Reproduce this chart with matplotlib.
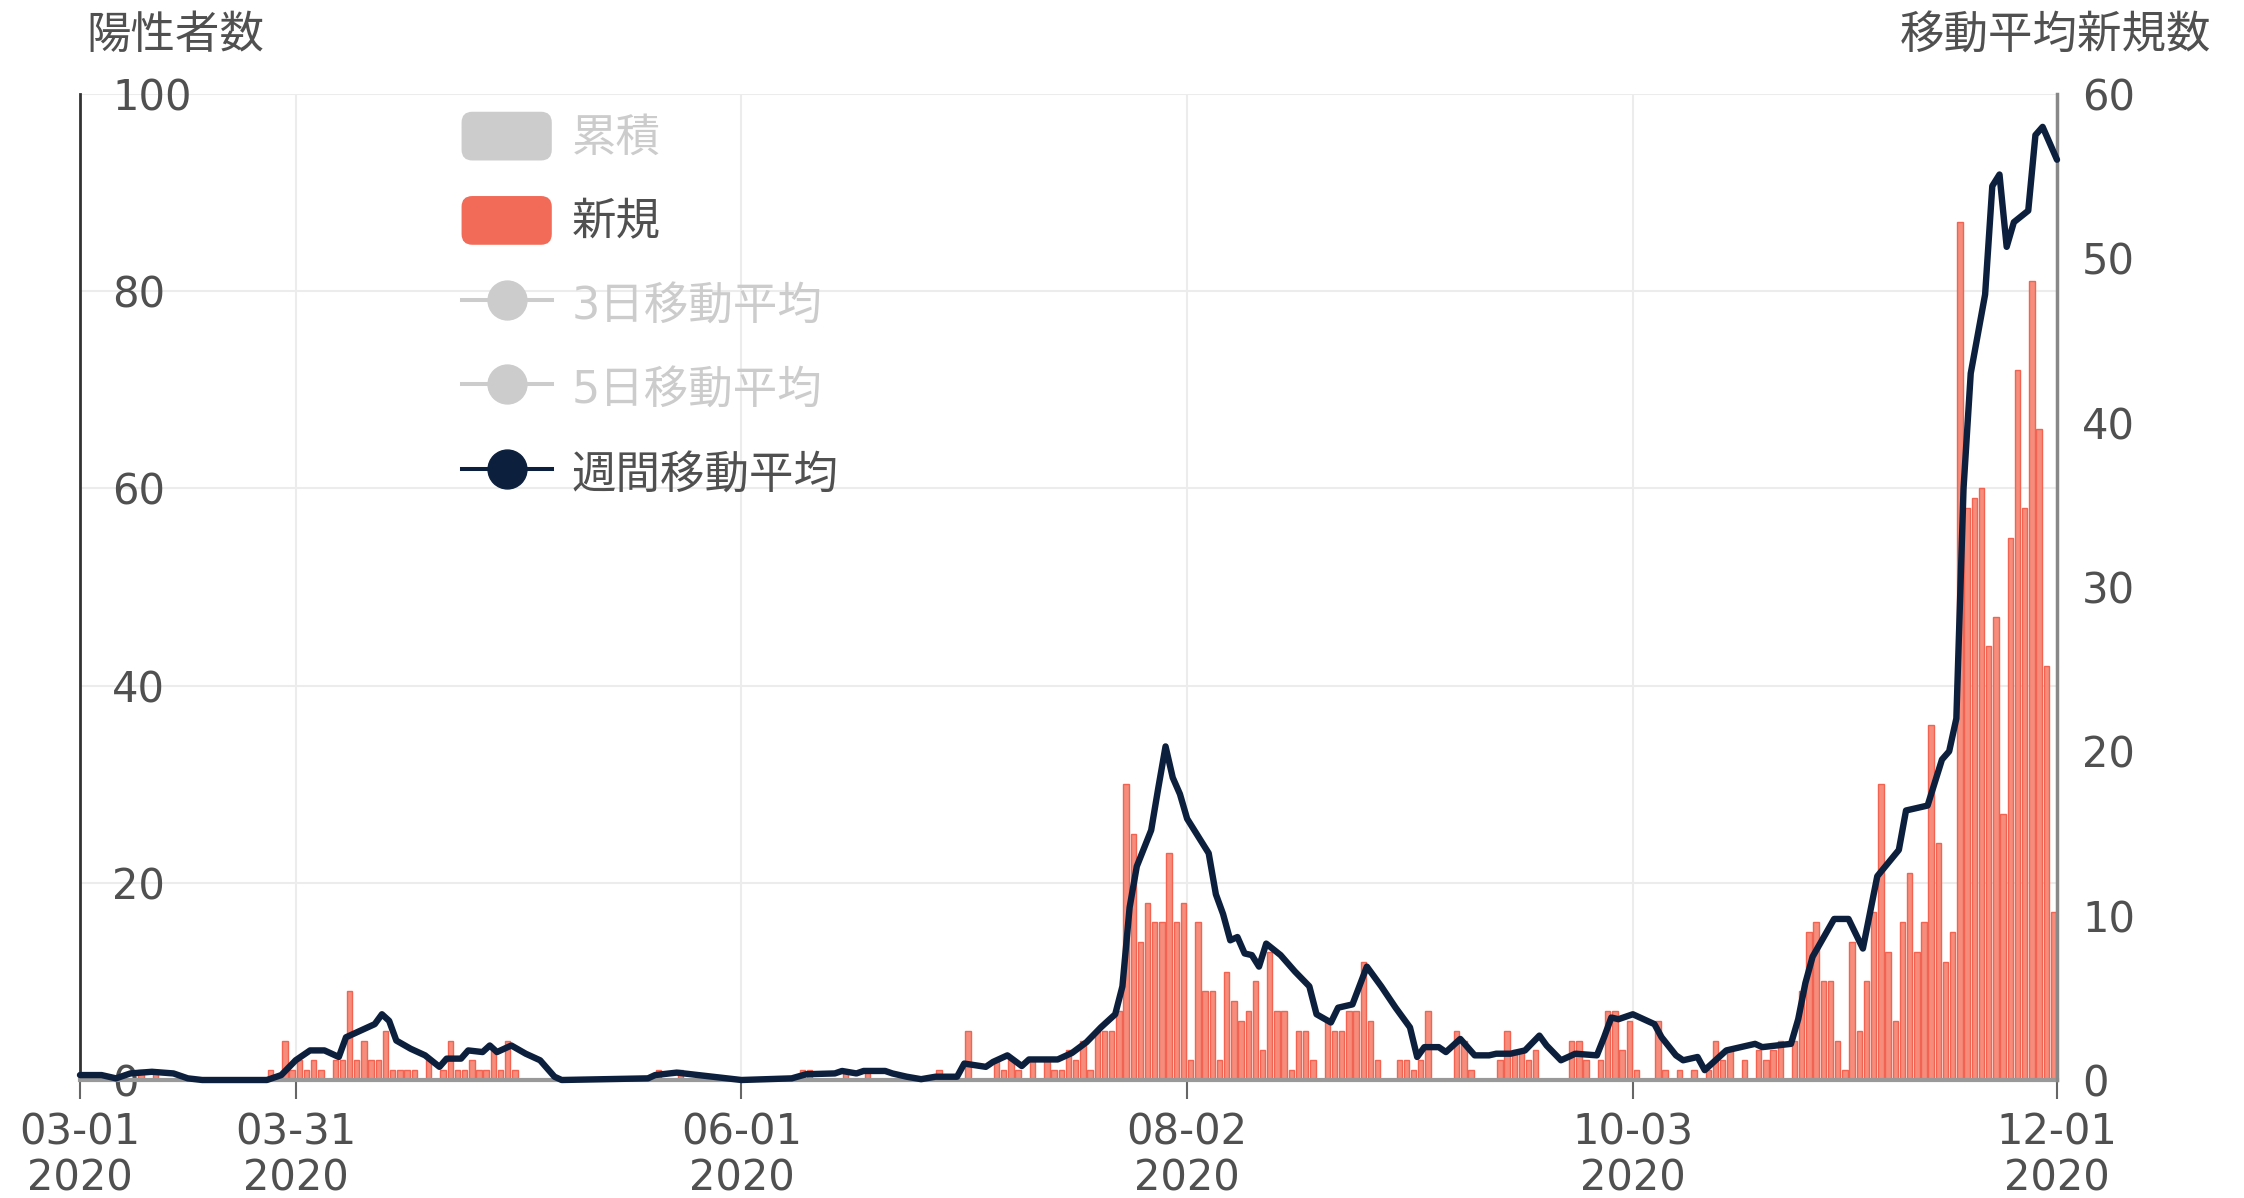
import numpy as np
import pandas as pd
import matplotlib
matplotlib.use("Agg")
import matplotlib.pyplot as plt
from matplotlib.patches import Patch, FancyBboxPatch
from matplotlib.lines import Line2D
from matplotlib.legend_handler import HandlerPatch

# DejaVu for the (wide) digits, Noto CJK picks up the Japanese glyphs
plt.rcParams["font.family"] = ["DejaVu Sans", "Noto Sans CJK JP"]

# daily new positives, 2020-03-01 .. 2020-11-30 (one list per month)
new_mar = [0, 0, 0, 0, 0, 0, 0, 0, 1, 0, 1, 0, 0, 0, 0, 0, 0, 0, 0, 0,
           0, 0, 0, 0, 0, 0, 1, 0, 4, 1, 2]
new_apr = [1, 2, 1, 0, 2, 2, 9, 2, 4, 2, 2, 5, 1, 1, 1, 1, 0, 2, 0, 1,
           4, 1, 1, 2, 1, 1, 3, 1, 4, 1]
new_may = [0, 0, 0, 0, 0, 0, 0, 0, 0, 0, 0, 0, 0, 0, 0, 0, 0, 0, 0, 1,
           0, 0, 1, 0, 0, 0, 0, 0, 0, 0, 0]
new_jun = [0, 0, 0, 0, 0, 0, 0, 0, 1, 1, 0, 0, 0, 0, 1, 0, 0, 1, 0, 0,
           0, 0, 0, 0, 0, 0, 0, 1, 0, 0]
new_jul = [0, 5, 0, 0, 0, 2, 1, 2, 1, 0, 2, 0, 2, 1, 1, 3, 2, 4, 1, 5,
           5, 5, 7, 30, 25, 14, 18, 16, 16, 23, 16]
new_aug = [18, 2, 16, 9, 9, 2, 11, 8, 6, 7, 10, 3, 13, 7, 7, 1, 5, 5, 2, 0,
           6, 5, 5, 7, 7, 12, 6, 2, 0, 0, 2]
new_sep = [2, 1, 2, 7, 0, 0, 0, 5, 4, 1, 0, 0, 0, 2, 5, 3, 3, 2, 3, 0,
           0, 0, 0, 4, 4, 2, 0, 2, 7, 7]
new_oct = [3, 6, 1, 0, 0, 6, 1, 0, 1, 0, 1, 0, 1, 4, 2, 3, 0, 2, 0, 3,
           2, 3, 4, 0, 4, 9, 15, 16, 10, 10, 4]
new_nov = [1, 14, 5, 10, 17, 30, 13, 6, 16, 21, 13, 16, 36, 24, 12, 15, 87, 58, 59, 60,
           44, 47, 27, 55, 72, 58, 81, 66, 42, 17]

new_cases = new_mar + new_apr + new_may + new_jun + new_jul + new_aug + new_sep + new_oct + new_nov

# weekly moving average (days since 2020-03-01, value)
ma_days = [0, 3, 5, 7, 10, 13, 15, 17, 26, 28, 30, 32, 34, 36, 37, 39, 41, 42, 43, 44,
           46, 48, 50, 51, 53, 54, 56, 57, 58, 60, 62, 64, 65, 66, 67, 79, 80, 83, 86, 88,
           90, 92, 99, 101, 105, 106, 108, 109, 112, 113, 115, 117, 119, 122, 123, 126, 127, 129, 131, 132,
           136, 138, 140, 142, 144, 145, 146, 147, 149, 150, 151, 152, 153, 154, 155, 157, 158, 159, 160, 161,
           162, 163, 164, 165, 167, 169, 171, 172, 174, 175, 177, 179, 181, 183, 185, 186, 187, 189, 190, 192,
           194, 196, 197, 199, 201, 203, 204, 206, 208, 211, 212, 213, 214, 216, 217, 219, 220, 222, 223, 225,
           226, 228, 229, 231, 233, 234, 236, 238, 239, 240, 241, 244, 246, 248, 250, 253, 254, 257, 259, 260,
           261, 262, 263, 265, 266, 267, 268, 269, 271, 272, 273, 274, 275]
ma_values = [0.3, 0.3, 0.1, 0.4, 0.5, 0.4, 0.1, 0.0, 0.0, 0.3, 1.2, 1.8, 1.8, 1.4, 2.6, 3.0, 3.4, 4.0, 3.6, 2.4,
             1.9, 1.5, 0.8, 1.3, 1.3, 1.8, 1.7, 2.1, 1.7, 2.1, 1.6, 1.2, 0.7, 0.2, 0.0, 0.1, 0.3, 0.45, 0.3, 0.2,
             0.1, 0.0, 0.1, 0.35, 0.4, 0.55, 0.4, 0.55, 0.55, 0.4, 0.2, 0.05, 0.2, 0.2, 1.0, 0.8, 1.1, 1.5, 0.85, 1.25,
             1.25, 1.65, 2.3, 3.2, 4.0, 5.7, 10.5, 13.0, 15.2, 17.8, 20.3, 18.4, 17.4, 15.9, 15.2, 13.8, 11.3, 10.1, 8.5, 8.7,
             7.7, 7.6, 6.9, 8.3, 7.6, 6.6, 5.7, 4.0, 3.5, 4.4, 4.6, 6.9, 5.7, 4.4, 3.2, 1.4, 2.0, 2.0, 1.7, 2.5,
             1.5, 1.5, 1.6, 1.6, 1.8, 2.7, 2.1, 1.2, 1.6, 1.5, 2.6, 3.8, 3.7, 4.0, 3.8, 3.4, 2.6, 1.5, 1.2, 1.4,
             0.6, 1.4, 1.8, 2.0, 2.2, 2.0, 2.1, 2.2, 3.7, 5.9, 7.5, 9.8, 9.8, 8.0, 12.4, 14.0, 16.4, 16.7, 19.5, 20.0,
             22.0, 36.0, 43.0, 47.8, 54.4, 55.1, 50.7, 52.2, 52.9, 57.5, 58.0, 57.0, 56.0]

tick_dates = ["2020-03-01", "2020-03-31", "2020-06-01", "2020-08-02", "2020-10-03", "2020-12-01"]
legend_labels = ["累積", "新規", "3日移動平均", "5日移動平均", "週間移動平均"]

start = pd.Timestamp("2020-03-01")
days = np.arange(len(new_cases))
tick_pos = [(pd.Timestamp(d) - start).days for d in tick_dates]
tick_lab = [pd.Timestamp(d).strftime("%m-%d\n%Y") for d in tick_dates]

bar_face = "#f58c7c"
bar_edge = "#f26451"
navy = "#0c1f3d"
grey_off = "#cccccc"
txt = "#505050"
fs = 30


class RoundBox(HandlerPatch):
    def create_artists(self, legend, orig_handle, xdescent, ydescent,
                       width, height, fontsize, trans):
        r = height * 0.22
        p = FancyBboxPatch((-xdescent + r, -ydescent + r), width - 2 * r, height - 2 * r,
                           boxstyle=f"round,pad={r}", fc=orig_handle.get_facecolor(),
                           ec="none", transform=trans)
        return [p]


fig = plt.figure(figsize=(22.44, 11.98), dpi=100)
ax = fig.add_axes([80 / 2244, 1 - 1080 / 1198, 1977 / 2244, 986 / 1198])
ax2 = ax.twinx()

ax.bar(days + 0.5, new_cases, width=0.75, color=bar_face, edgecolor=bar_edge,
       linewidth=1.0, zorder=2)
ax2.plot(ma_days, ma_values, color=navy, lw=4.6, solid_joinstyle="round",
         solid_capstyle="round", clip_on=False, zorder=3)

ax.set_xlim(0, 275)
ax.set_ylim(0, 100)
ax2.set_ylim(0, 60)

ax.set_xticks(tick_pos)
ax.set_xticklabels(tick_lab)
for t in ax.get_xticklabels():
    t.set_linespacing(1.12)
ax.tick_params(axis="x", length=14, width=1.5, color="#666666", pad=9,
               labelsize=fs, labelcolor=txt)

ax.set_yticks(range(0, 101, 20))
ax.tick_params(axis="y", length=0, pad=-23, labelsize=fs, labelcolor=txt)
for t in ax.get_yticklabels():
    t.set_horizontalalignment("left")

ax2.set_yticks(range(0, 61, 10))
ax2.tick_params(axis="y", length=0, pad=18, labelsize=fs, labelcolor=txt)

ax.grid(True, color="#ececec", lw=1.5)
ax.set_axisbelow(True)

for s in ["top", "right"]:
    ax.spines[s].set_visible(False)
ax.spines["left"].set_color("#333333")
ax.spines["left"].set_linewidth(2)
ax.spines["bottom"].set_color("#999999")
ax.spines["bottom"].set_linewidth(3)
for s in ["top", "left", "bottom"]:
    ax2.spines[s].set_visible(False)
ax2.spines["right"].set_color("#888888")
ax2.spines["right"].set_linewidth(2.5)

fig.text(86 / 2244, 1 - 36 / 1198, "陽性者数", ha="left", va="center",
         fontsize=32, color=txt)
fig.text(2211 / 2244, 1 - 36 / 1198, "移動平均新規数", ha="right", va="center",
         fontsize=32, color=txt)

handles = [
    Patch(facecolor=grey_off),
    Patch(facecolor="#f26a58"),
    Line2D([0], [0], color=grey_off, lw=2.9, marker="o", ms=28),
    Line2D([0], [0], color=grey_off, lw=2.9, marker="o", ms=28),
    Line2D([0], [0], color=navy, lw=2.9, marker="o", ms=28),
]
leg = ax2.legend(handles, legend_labels, loc="upper left", bbox_to_anchor=(0.193, 0.982),
                 frameon=False, fontsize=32, handlelength=2.03, handleheight=1.31,
                 handletextpad=0.45, labelspacing=0.8, borderpad=0, borderaxespad=0,
                 handler_map={Patch: RoundBox()})
for t, c in zip(leg.get_texts(), [grey_off, txt, grey_off, grey_off, txt]):
    t.set_color(c)

fig.savefig("out.png", dpi=100)
